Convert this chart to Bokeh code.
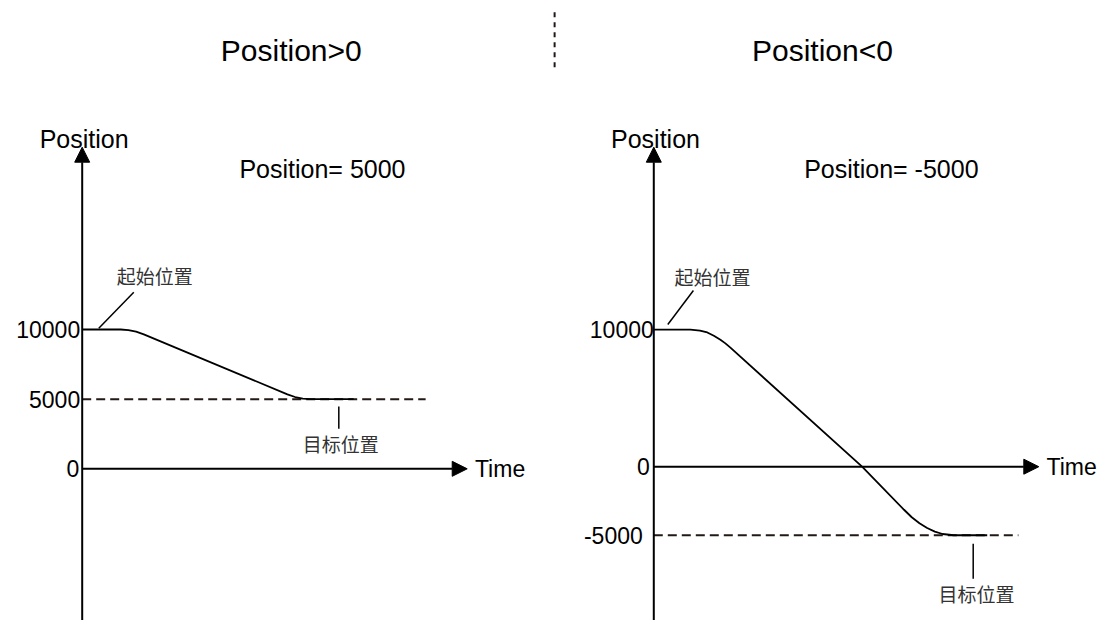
from bokeh.plotting import figure
from bokeh.layouts import row
from bokeh.models import Arrow, NormalHead
from bokeh.core.properties import value
from bokeh.embed import file_html
from bokeh.resources import INLINE

# ---------------- data ----------------
left_time = [0, 1.0, 1.2, 1.4, 1.6, 5.33, 5.53, 5.73, 5.93, 7.05]
left_pos = [10000, 10000, 9962, 9847, 9655, 5345, 5153, 5038, 5000, 5000]

right_time = [0, 0.95, 1.2, 1.39, 1.56, 1.73, 1.86, 1.99, 5.41, 6.5, 6.7, 6.9, 7.1,
              7.3, 7.5, 7.79, 8.66]
right_pos = [10000, 10000, 9924, 9790, 9547, 9260, 8992, 8683, 0, -3140, -3685, -4123,
             -4473, -4734, -4907, -5000, -5000]

left_ticks = [10000, 5000, 0]
right_ticks = [10000, 0, -5000]
left_target = 5000
right_target = -5000
titles = ["Position>0", "Position<0"]
notes = ["Position= 5000", "Position= -5000"]
start_label = "起始位置"
target_label = "目标位置"
axis_y_label = "Position"
axis_x_label = "Time"

LATIN = value("Liberation Sans")
CJK = value("Noto Sans CJK SC")
INK = "#000000"
DASH_INK = "#231815"
H = 620


def base_fig(width, xr, yr):
    p = figure(width=width, height=H, x_range=xr, y_range=yr,
               output_backend="svg", toolbar_location=None,
               x_axis_location=None, y_axis_location=None,
               min_border=0, outline_line_color=None)
    p.xgrid.visible = False
    p.ygrid.visible = False
    p.background_fill_color = "white"
    p.border_fill_color = "white"
    return p


def draw_panel(p, t, pos, ticks, tick_dx, target, target_end, y_tip, y_bottom,
               title_xy, label_xy, note_xy, note, title, start_xy, start_leader,
               target_xy, target_leader):
    # axes with arrow heads
    p.add_layout(Arrow(end=NormalHead(size=15, fill_color=INK, line_color=INK, line_width=1),
                       x_start=0, y_start=y_bottom, x_end=0, y_end=y_tip,
                       line_width=2, line_color=INK))
    p.add_layout(Arrow(end=NormalHead(size=15, fill_color=INK, line_color=INK, line_width=1),
                       x_start=0, y_start=0, x_end=10.0, y_end=0,
                       line_width=2, line_color=INK))
    # target dashed line
    p.line([0, target_end], [target, target], line_dash="9 5", line_width=2,
           line_color=DASH_INK)
    # position curve
    p.line(t, pos, line_width=1.8, line_color=INK)
    # tick labels
    p.text(x=[0] * len(ticks), y=ticks, text=[str(v) for v in ticks],
           x_offset=tick_dx, text_align="right", text_baseline="middle",
           text_font=LATIN, text_font_size=value("23px"), text_color=INK)
    # axis labels
    p.text(x=[label_xy[0]], y=[label_xy[1]], text=[axis_y_label], text_align="center",
           text_baseline="alphabetic", text_font=LATIN, text_font_size=value("25px"),
           text_color=INK)
    p.text(x=[10.2], y=[0], text=[axis_x_label], text_align="left", text_baseline="middle",
           text_font=LATIN, text_font_size=value("23px"), text_color=INK)
    # titles / notes
    p.text(x=[title_xy[0]], y=[title_xy[1]], text=[title], text_align="center",
           text_baseline="alphabetic", text_font=LATIN, text_font_size=value("30px"),
           text_color=INK)
    p.text(x=[note_xy[0]], y=[note_xy[1]], text=[note], text_align="center",
           text_baseline="alphabetic", text_font=LATIN, text_font_size=value("25px"),
           text_color=INK)
    # annotations
    p.text(x=[start_xy[0]], y=[start_xy[1]], text=[start_label], text_align="center",
           text_baseline="middle", text_font=CJK, text_font_size=value("19px"),
           text_color="#333333")
    p.line(start_leader[0], start_leader[1], line_width=1.5, line_color=INK)
    p.text(x=[target_xy[0]], y=[target_xy[1]], text=[target_label], text_align="center",
           text_baseline="middle", text_font=CJK, text_font_size=value("19px"),
           text_color="#333333")
    p.line(target_leader[0], target_leader[1], line_width=1.5, line_color=INK)


left = base_fig(560, (-2.122, 12.423), (-10890, 33618))
draw_panel(left, left_time, left_pos, left_ticks, [-2, -2, -3], left_target, 8.92,
           23087, -12000,
           title_xy=(5.43, 30029), label_xy=(0.05, 23690), note_xy=(6.24, 21536),
           note=notes[0], title=titles[0],
           start_xy=(1.883, 13891), start_leader=([0.431, 1.340], [10093, 12678]),
           target_xy=(6.717, 1852), target_leader=([6.665, 6.665], [4472, 2871]))
# separator between the two cases
left.line([12.27, 12.27], [32778, 28471], line_dash="5 5", line_width=2, line_color=DASH_INK)

right = base_fig(549, (-2.423, 11.836), (-11215, 33994))
draw_panel(right, right_time, right_pos, right_ticks, [0, -4, -11], right_target, 9.47,
           23297, -12000,
           title_xy=(4.38, 30349), label_xy=(0.044, 23910), note_xy=(6.17, 21722),
           note=notes[1], title=titles[1],
           start_xy=(1.525, 13833), start_leader=([0.364, 1.029], [10369, 12848]),
           target_xy=(8.382, -9210), target_leader=([8.296, 8.296], [-5622, -8174]))

layout = row(left, right, spacing=0)

open("out.html", "w").write(file_html(layout, INLINE))
